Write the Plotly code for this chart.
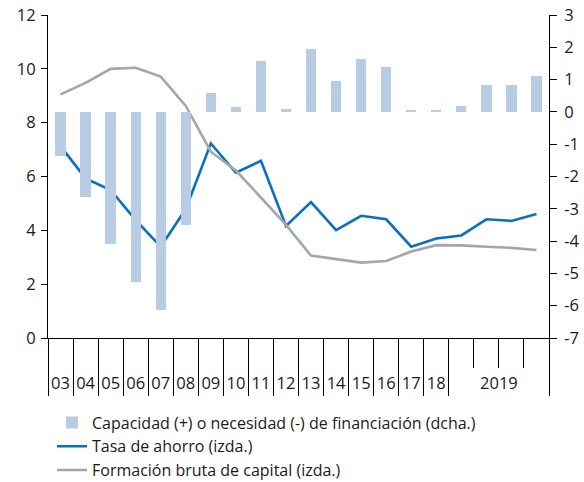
import plotly.graph_objects as go

year_labels = ["03", "04", "05", "06", "07", "08", "09", "10", "11", "12",
               "13", "14", "15", "16", "17", "18"]
quarter_label = "2019"
n_quarters = 4

capacidad = [-1.35, -2.62, -4.08, -5.27, -6.14, -3.49, 0.59, 0.15, 1.58, 0.10,
             1.94, 0.95, 1.65, 1.40, 0.04, 0.04, 0.17, 0.83, 0.83, 1.11]
tasa_ahorro = [7.13, 5.93, 5.50, 4.38, 3.39, 4.79, 7.23, 6.14, 6.58, 4.16,
               5.05, 4.01, 4.54, 4.41, 3.39, 3.70, 3.81, 4.41, 4.35, 4.61]
fbc = [9.05, 9.48, 10.00, 10.04, 9.71, 8.62, 6.92, 6.22, 5.22, 4.20,
       3.06, 2.92, 2.80, 2.86, 3.21, 3.45, 3.44, 3.39, 3.35, 3.27]

left_ticks = list(range(0, 13, 2))
right_ticks = list(range(-7, 4))
right_text = [str(v) for v in right_ticks]  # plain hyphen minus as in the original

n = len(capacidad)
x = list(range(n))
ny = len(year_labels)

FONT = "Open Sans"
FS = 16.5
LFS = 16
TXT = "#1a1a1a"

fig = go.Figure()
fig.add_trace(go.Bar(x=x, y=capacidad, yaxis="y2", width=0.41,
                     marker=dict(color="#b8cce4", line_width=0),
                     name="Capacidad (+) o necesidad (-) de financiación (dcha.)"))
fig.add_trace(go.Scatter(x=x, y=tasa_ahorro, mode="lines",
                         line=dict(color="#0870c0", width=2.6),
                         name="Tasa de ahorro (izda.)"))
fig.add_trace(go.Scatter(x=x, y=fbc, mode="lines",
                         line=dict(color="#a6a6a6", width=2.6),
                         name="Formación bruta de capital (izda.)"))
# invisible helpers so the decorative tick axes are drawn
for ax in ("x2", "x3"):
    fig.add_trace(go.Scatter(x=[0], y=[0], xaxis=ax, mode="markers",
                             marker=dict(opacity=0), showlegend=False,
                             hoverinfo="skip"))

xr = [-0.5, n - 0.5]
long_ticks = [i - 0.5 for i in range(ny + 1)] + [n - 0.5]
short_ticks = [ny + i + 0.5 for i in range(n_quarters - 1)]
label_vals = list(range(ny)) + [ny + (n_quarters - 1) / 2]
label_text = year_labels + [quarter_label]

fig.update_layout(
    width=584, height=482,
    margin=dict(l=48, r=35, t=15, b=144, autoexpand=False),
    plot_bgcolor="white", paper_bgcolor="white",
    font=dict(family=FONT, size=FS, color=TXT),
    showlegend=True,
    legend=dict(x=0.008, y=-0.209, xanchor="left", yanchor="top",
                font=dict(size=LFS, color=TXT), tracegroupgap=0,
                itemwidth=30, bgcolor="rgba(0,0,0,0)"),
    bargap=0,
    xaxis=dict(range=xr, tickmode="array", tickvals=long_ticks,
               ticks="outside", ticklen=57, tickwidth=1, tickcolor="black",
               showticklabels=False, showline=True, linecolor="black",
               linewidth=1, showgrid=False, zeroline=False),
    xaxis2=dict(range=xr, overlaying="x", anchor="y", side="bottom",
                tickmode="array", tickvals=short_ticks, ticks="outside",
                ticklen=29, tickwidth=1, tickcolor="black",
                showticklabels=False, showline=False, showgrid=False,
                zeroline=False),
    xaxis3=dict(range=xr, overlaying="x", anchor="y", side="bottom",
                tickmode="array", tickvals=label_vals, ticktext=label_text,
                ticks="outside", ticklen=30, tickcolor="rgba(0,0,0,0)",
                tickfont=dict(size=FS, color=TXT),
                showline=False, showgrid=False, zeroline=False),
    yaxis=dict(range=[0, 12], tickmode="array", tickvals=left_ticks,
               ticks="outside", ticklen=6, tickcolor="black",
               showline=True, linecolor="black", linewidth=1,
               showgrid=False, zeroline=False, ticklabelstandoff=2,
               tickfont=dict(size=FS, color=TXT)),
    yaxis2=dict(range=[-7, 3], tickmode="array", tickvals=right_ticks,
                ticktext=right_text,
                overlaying="y", side="right", anchor="x",
                ticks="outside", ticklen=7, tickcolor="black",
                showline=True, linecolor="black", linewidth=1,
                showgrid=False, zeroline=False, ticklabelstandoff=4,
                tickfont=dict(size=FS, color=TXT)),
)

fig.write_html("out.html", config={"displayModeBar": False},
               post_script="document.body.style.margin='0';")
